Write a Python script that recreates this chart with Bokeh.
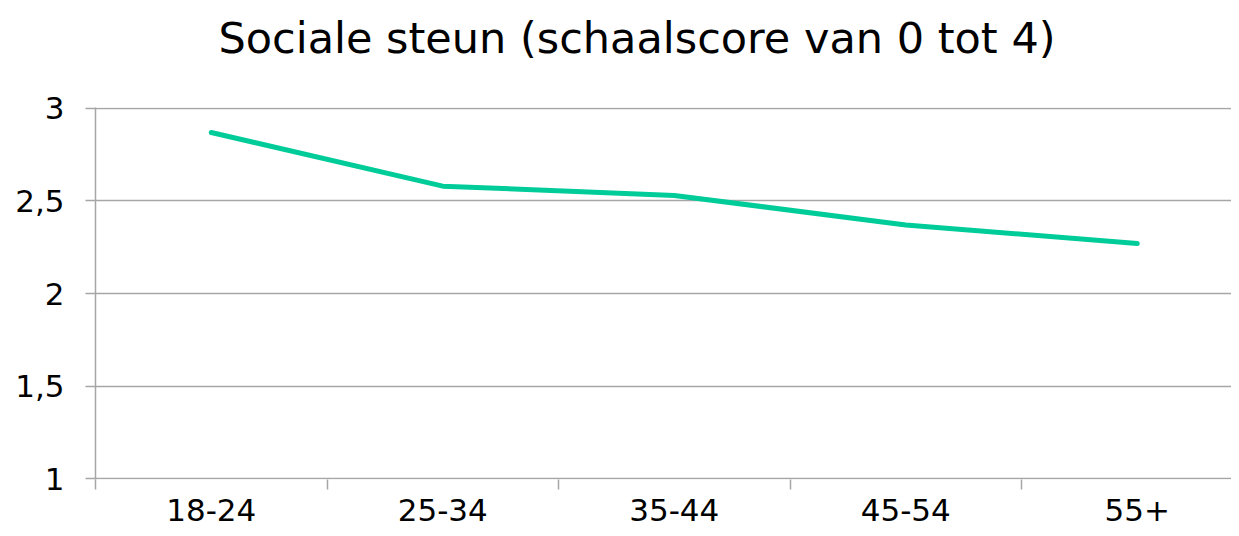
from bokeh.plotting import figure
from bokeh.models import Range1d, FixedTicker, LinearAxis, Title
from bokeh.embed import file_html
from bokeh.resources import INLINE

categories = ["18-24", "25-34", "35-44", "45-54", "55+"]
values = [2.87, 2.58, 2.53, 2.37, 2.27]
y_ticks = [1, 1.5, 2, 2.5, 3]
y_tick_labels = ["1", "1,5", "2", "2,5", "3"]
title_text = "Sociale steun (schaalscore van 0 tot 4)"

FONT = "DejaVu Sans"
GRID = "#a6a6a6"

x_centers = [i + 0.5 for i in range(len(categories))]
x_bounds = [float(i) for i in range(len(categories))]

p = figure(width=1231, height=528, output_backend="svg", toolbar_location=None,
           x_range=Range1d(0, 4.907), y_range=Range1d(0.995, 3.005),
           x_axis_location=None, y_axis_location=None,
           min_border_left=95, min_border_right=0, min_border_top=107, min_border_bottom=49)
p.title = Title(text=title_text, align="left", offset=123, vertical_align="bottom",
                text_font=FONT, text_font_size="43px",
                text_font_style="normal", text_color="#000000", standoff=14)
# empty spacer between the title and the plot frame
p.add_layout(Title(text=" ", text_font=FONT, text_font_size="10px", standoff=25), "above")
p.outline_line_color = None
p.background_fill_color = "white"
p.border_fill_color = "white"

xaxis = LinearAxis(ticker=FixedTicker(ticks=x_centers, minor_ticks=x_bounds),
                   major_label_overrides={c: lab for c, lab in zip(x_centers, categories)})
xaxis.axis_line_color = None
xaxis.major_tick_line_color = None
xaxis.major_tick_out = 10
xaxis.major_tick_in = 0
xaxis.minor_tick_line_color = GRID
xaxis.minor_tick_line_width = 1.5
xaxis.minor_tick_out = 10
xaxis.minor_tick_in = 0
xaxis.major_label_text_font = FONT
xaxis.major_label_text_font_size = "31px"
xaxis.major_label_text_color = "#000000"
xaxis.major_label_standoff = 9
p.add_layout(xaxis, "below")

yaxis = LinearAxis(ticker=FixedTicker(ticks=y_ticks),
                   major_label_overrides={t: lab for t, lab in zip(y_ticks, y_tick_labels)})
yaxis.axis_line_color = GRID
yaxis.axis_line_width = 1.5
yaxis.major_tick_line_color = GRID
yaxis.major_tick_line_width = 1.5
yaxis.major_tick_out = 10
yaxis.major_tick_in = 0
yaxis.minor_tick_line_color = None
yaxis.major_label_text_font = FONT
yaxis.major_label_text_font_size = "31px"
yaxis.major_label_text_color = "#000000"
yaxis.major_label_standoff = 21
p.add_layout(yaxis, "left")

p.xgrid.visible = False
p.ygrid.ticker = FixedTicker(ticks=y_ticks)
p.ygrid.grid_line_color = GRID
p.ygrid.grid_line_width = 1.5

p.line(x_centers, values, line_color="#00cc99", line_width=5, line_cap="round", line_join="round")

open("out.html", "w").write(file_html(p, INLINE))
